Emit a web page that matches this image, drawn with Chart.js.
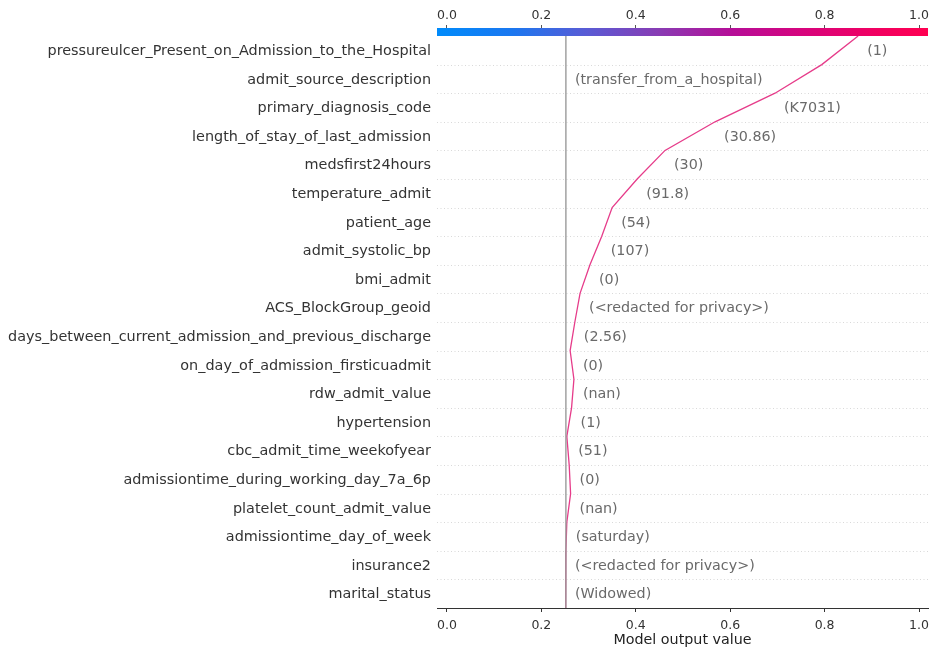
<!DOCTYPE html>
<html>
<head>
<meta charset="utf-8">
<script src="https://cdn.jsdelivr.net/npm/chart.js@4.4.0/dist/chart.umd.min.js"></script>
<style>
  html, body { margin: 0; padding: 0; background: #ffffff; }
  #wrap { width: 931px; height: 650px; position: relative; }
</style>
</head>
<body>
<div id="wrap"><canvas id="c" width="931" height="650"></canvas></div>
<script>
// Features in display order (top to bottom) with the observed value of each one
const featureNames = [
  "pressureulcer_Present_on_Admission_to_the_Hospital",
  "admit_source_description",
  "primary_diagnosis_code",
  "length_of_stay_of_last_admission",
  "medsfirst24hours",
  "temperature_admit",
  "patient_age",
  "admit_systolic_bp",
  "bmi_admit",
  "ACS_BlockGroup_geoid",
  "days_between_current_admission_and_previous_discharge",
  "on_day_of_admission_firsticuadmit",
  "rdw_admit_value",
  "hypertension",
  "cbc_admit_time_weekofyear",
  "admissiontime_during_working_day_7a_6p",
  "platelet_count_admit_value",
  "admissiontime_day_of_week",
  "insurance2",
  "marital_status"
];
const featureValues = [
  "1", "transfer_from_a_hospital", "K7031", "30.86", "30", "91.8", "54", "107", "0",
  "<redacted for privacy>", "2.56", "0", "nan", "1", "51", "0", "nan", "saturday",
  "<redacted for privacy>", "Widowed"
];
// Cumulative model output at each row boundary, top (final prediction) to bottom (base value)
const outputPath = [
  0.871, 0.794, 0.695, 0.568, 0.462, 0.403, 0.350, 0.328, 0.303, 0.282, 0.271,
  0.261, 0.269, 0.264, 0.254, 0.259, 0.262, 0.254, 0.252, 0.251, 0.252
];
const baseValue = 0.252;
const xTickValues = [0.0, 0.2, 0.4, 0.6, 0.8, 1.0];
const xMin = -0.021, xMax = 1.019;

const n = featureNames.length;
const FONT = "'DejaVu Sans', 'Liberation Sans', sans-serif";

// Blue-to-red colour map used for the colour bar
const cmapStops = [
  [0.00, [0, 139, 251]],
  [0.15, [26, 120, 240]],
  [0.30, [88, 92, 214]],
  [0.45, [136, 60, 180]],
  [0.60, [181, 14, 152]],
  [0.75, [216, 4, 124]],
  [0.90, [242, 0, 96]],
  [1.00, [255, 0, 81]]
];
function cmap(t) {
  t = Math.max(0, Math.min(1, t));
  for (let i = 1; i < cmapStops.length; i++) {
    const [t1, c1] = cmapStops[i];
    const [t0, c0] = cmapStops[i - 1];
    if (t <= t1) {
      const f = (t - t0) / (t1 - t0);
      const c = c0.map((v, j) => Math.round(v + (c1[j] - v) * f));
      return `rgb(${c[0]},${c[1]},${c[2]})`;
    }
  }
  const c = cmapStops[cmapStops.length - 1][1];
  return `rgb(${c[0]},${c[1]},${c[2]})`;
}

const decisionPlugin = {
  id: 'decisionDecor',
  beforeDatasetsDraw(chart) {
    const { ctx, chartArea, scales } = chart;
    ctx.save();
    ctx.strokeStyle = '#cfcfcf';
    ctx.lineWidth = 0.8;
    ctx.setLineDash([1, 2.5]);
    for (let y = 1; y < n; y++) {
      const py = Math.round(scales.y.getPixelForValue(y)) + 0.5;
      ctx.beginPath();
      ctx.moveTo(chartArea.left, py);
      ctx.lineTo(chartArea.right, py);
      ctx.stroke();
    }
    ctx.restore();
  },
  afterDraw(chart) {
    const { ctx, chartArea, scales } = chart;
    const xs = scales.x;
    ctx.save();
    // colour bar along the top of the plot
    const grad = ctx.createLinearGradient(chartArea.left, 0, chartArea.right, 0);
    for (let i = 0; i <= 40; i++) grad.addColorStop(i / 40, cmap(i / 40));
    ctx.fillStyle = grad;
    ctx.fillRect(chartArea.left, chartArea.top - 8, chartArea.right - chartArea.left, 8);

    // feature value labels beside the decision line
    ctx.font = `14.3px ${FONT}`;
    ctx.fillStyle = '#6a6a6a';
    ctx.textBaseline = 'middle';
    ctx.textAlign = 'left';
    const gap = 9;
    for (let k = 0; k < n; k++) {
      const txt = '(' + featureValues[k] + ')';
      const py = scales.y.getPixelForValue(n - 0.5 - k) + 1;
      let px = xs.getPixelForValue(Math.max(outputPath[k], outputPath[k + 1])) + gap;
      if (px + ctx.measureText(txt).width > chartArea.right) {
        px = xs.getPixelForValue(baseValue) + gap;
      }
      ctx.fillText(txt, px, py);
    }
    ctx.restore();
  }
};

const tickFont = { family: FONT, size: 12.5 };
// let the end tick labels hang past the plot edges
const noEdgePadding = s => { s.paddingLeft = 0; s.paddingRight = 0; };

new Chart(document.getElementById('c'), {
  type: 'line',
  data: {
    datasets: [
      {
        label: 'base value',
        data: [{ x: baseValue, y: 0 }, { x: baseValue, y: n }],
        borderColor: '#9a9a9a',
        borderWidth: 1.4,
        pointRadius: 0
      },
      {
        label: 'model output',
        data: outputPath.map((v, j) => ({ x: v, y: n - j })),
        borderColor: '#e63c8a',
        borderWidth: 1.3,
        pointRadius: 0,
        tension: 0
      }
    ]
  },
  options: {
    responsive: false,
    animation: false,
    layout: { padding: { left: 0, right: 3, top: 0, bottom: 0 } },
    plugins: { legend: { display: false }, tooltip: { enabled: false } },
    scales: {
      x: {
        type: 'linear',
        position: 'bottom',
        min: xMin,
        max: xMax,
        afterBuildTicks: s => { s.ticks = xTickValues.map(v => ({ value: v })); },
        afterFit: s => { s.height = 42; noEdgePadding(s); },
        ticks: { font: tickFont, color: '#333333', padding: 6, callback: v => v.toFixed(1) },
        grid: { drawOnChartArea: false, drawTicks: true, tickLength: 4, color: '#333333' },
        border: { display: true, color: '#333333', width: 1 },
        title: {
          display: true,
          text: 'Model output value',
          font: { family: FONT, size: 14.3 },
          color: '#222222',
          padding: { top: 0, bottom: 1 }
        }
      },
      xTop: {
        type: 'linear',
        axis: 'x',
        position: 'top',
        min: xMin,
        max: xMax,
        afterBuildTicks: s => { s.ticks = xTickValues.map(v => ({ value: v })); },
        afterFit: s => { s.height = 36; noEdgePadding(s); },
        ticks: { font: tickFont, color: '#333333', padding: 2, callback: v => v.toFixed(1) },
        grid: { drawOnChartArea: false, drawTicks: true, tickLength: 11, color: '#555555' },
        border: { display: false }
      },
      y: {
        type: 'linear',
        min: 0,
        max: n,
        afterBuildTicks: s => { s.ticks = featureNames.map((_, k) => ({ value: n - 0.5 - k })); },
        afterFit: s => { s.width = 437; s.paddingTop = 0; s.paddingBottom = 0; },
        ticks: {
          font: { family: FONT, size: 14.4 },
          color: '#333333',
          padding: 6,
          labelOffset: 1,
          autoSkip: false,
          callback: v => featureNames[Math.round(n - 0.5 - v)]
        },
        grid: { display: false, drawTicks: false },
        border: { display: false }
      }
    }
  },
  plugins: [decisionPlugin]
});
</script>
</body>
</html>
